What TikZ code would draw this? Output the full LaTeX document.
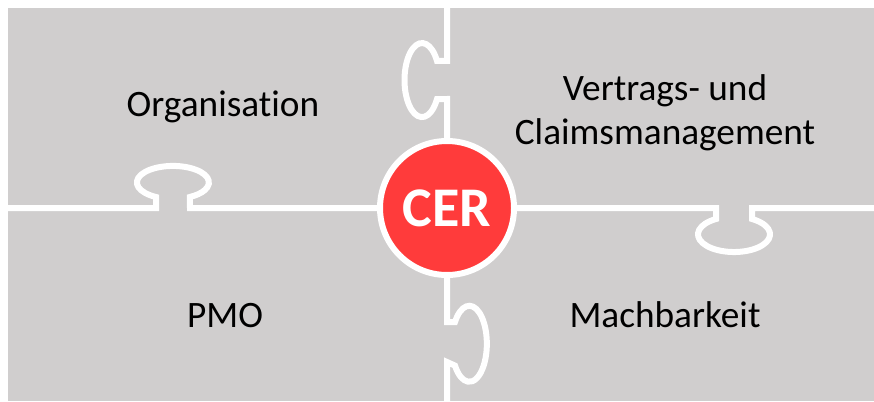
\documentclass[tikz,border=0pt]{standalone}
\usepackage{fontspec}
\setmainfont{Carlito}[Ligatures=NoCommon]
\definecolor{piecegray}{HTML}{D0CECE}
\definecolor{cerred}{HTML}{FF3B3B}

\tikzset{
  seam/.style={draw=white, line width=6, line join=miter},
  label/.style={font=\fontsize{37.3}{44}\selectfont, text=black, align=center, inner sep=0},
}

\begin{document}
\begin{tikzpicture}[x=1pt, y=-1pt]
                \useasboundingbox (0,0) rectangle (874,401);
                \fill[piecegray] (8,8) rectangle (874,401);
                % vertical seam, tab left on top, tab right below
                \draw[seam] (447,8) -- (447,61) -- (437,61)
                    arc[start angle=-31, end angle=-329, x radius=17.5, y radius=37] -- (447,99)
                    -- (447,322) -- (455,322)
                    arc[start angle=215, end angle=505, x radius=17.5, y radius=38] -- (447,362) -- (447,401);
                % horizontal seam, tab up on the left, tab down on the right
                \draw[seam] (8,208) -- (156,208) -- (156,197)
                    arc[start angle=118, end angle=422, x radius=36, y radius=16.5] -- (190,208)
                    -- (716,208) -- (716,219)
                    arc[start angle=-120, end angle=-420, x radius=36, y radius=17.7] -- (752,208) -- (874,208);
                \node[circle, fill=cerred, draw=white, line width=6, minimum size=134] (cer) at (447,208) {};
                \node[font=\fontsize{56}{60}\selectfont\bfseries, text=white] (cerlabel) at (cer.center) {CER};
                \node[label, anchor=base] (orga) at (223,117) {Organisation};
                \node[label] (vertrag) at (665,113) {Vertrags- und\\Claimsmanagement};
                \node[label, anchor=base] (pmo) at (225,327) {PMO};
                \node[label, anchor=base] (machbar) at (665,327) {Machbarkeit};
            \end{tikzpicture}
\end{document}
